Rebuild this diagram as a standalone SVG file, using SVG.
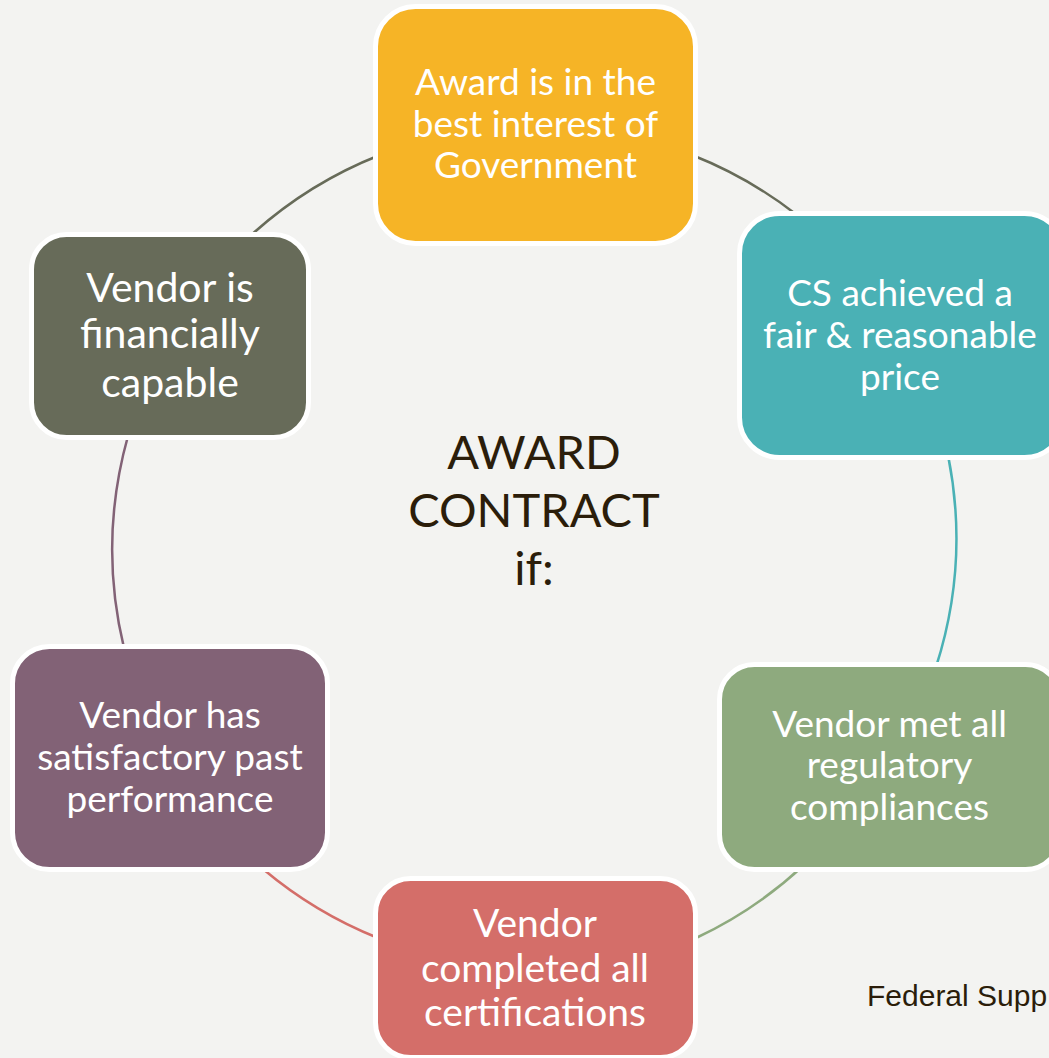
<svg xmlns="http://www.w3.org/2000/svg" width="1049" height="1058" viewBox="0 0 1049 1058">
<style>
.node rect{stroke:#ffffff;stroke-width:5}
.lbl{font-family:Lato,"Open Sans","Liberation Sans",sans-serif;fill:#ffffff;text-anchor:middle}
.s37{font-size:37px}
.s41{font-size:41px}
.s39{font-size:39px}
.arc{fill:none;stroke-width:2.5}
.ctr{font-family:Lato,"Open Sans","Liberation Sans",sans-serif;fill:#2b1d0a;text-anchor:middle;font-size:47px}
</style>
<rect x="0" y="0" width="1049" height="1058" fill="#f3f3f1"/>
<g id="connectors">
<path class="arc" stroke="#676b59" d="M248,238 A421,421 0 0 1 380,155"/>
<path class="arc" stroke="#676b59" d="M692,155 A421,421 0 0 1 797,215"/>
<path class="arc" stroke="#4ab1b5" d="M948,455 A421,421 0 0 1 936,667"/>
<path class="arc" stroke="#8eaa7e" d="M804,865 A421,421 0 0 1 696,938"/>
<path class="arc" stroke="#d46e69" d="M378,938 A421,421 0 0 1 263,869"/>
<path class="arc" stroke="#826276" d="M124,648 A421,421 0 0 1 128,436"/>
</g>
<g id="node-award" class="node">
<rect x="375.5" y="6.5" width="320" height="237" rx="40" fill="#f6b426"/>
<text class="lbl s37"><tspan x="535.5" y="95">Award is in the</tspan><tspan x="535.5" y="137">best interest of</tspan><tspan x="535.5" y="178">Government</tspan></text>
</g>
<g id="node-price" class="node">
<rect x="739.5" y="213.5" width="325" height="244" rx="40" fill="#4ab1b5"/>
<text class="lbl s37"><tspan x="900" y="306">CS achieved a</tspan><tspan x="900" y="348">fair &amp; reasonable</tspan><tspan x="900" y="390">price</tspan></text>
</g>
<g id="node-regulatory" class="node">
<rect x="719.5" y="664.5" width="341" height="205" rx="35" fill="#8eaa7e"/>
<text class="lbl s37"><tspan x="889.5" y="737">Vendor met all</tspan><tspan x="889.5" y="778">regulatory</tspan><tspan x="889.5" y="820">compliances</tspan></text>
</g>
<g id="node-certifications" class="node">
<rect x="375.5" y="878.5" width="320" height="179" rx="35" fill="#d46e69"/>
<text class="lbl s39"><tspan x="535" y="937">Vendor</tspan><tspan x="535" y="982">completed all</tspan><tspan x="535" y="1026">certifications</tspan></text>
</g>
<g id="node-performance" class="node">
<rect x="12.5" y="646.5" width="315" height="223" rx="37" fill="#826276"/>
<text class="lbl s37"><tspan x="170" y="728">Vendor has</tspan><tspan x="170" y="770">satisfactory past</tspan><tspan x="170" y="812">performance</tspan></text>
</g>
<g id="node-financial" class="node">
<rect x="31.5" y="234.5" width="277" height="203" rx="35" fill="#676b59"/>
<text class="lbl s41"><tspan x="170" y="302">Vendor is</tspan><tspan x="170" y="348">financially</tspan><tspan x="170" y="397">capable</tspan></text>
</g>
<g id="center-label">
<text class="ctr"><tspan x="534" y="469">AWARD</tspan><tspan x="534" y="527">CONTRACT</tspan><tspan x="534" y="585">if:</tspan></text>
</g>
<text x="867" y="1006" font-family="'Liberation Sans',Arial,sans-serif" font-size="30" fill="#2b1d0a">Federal Supp</text>
</svg>
